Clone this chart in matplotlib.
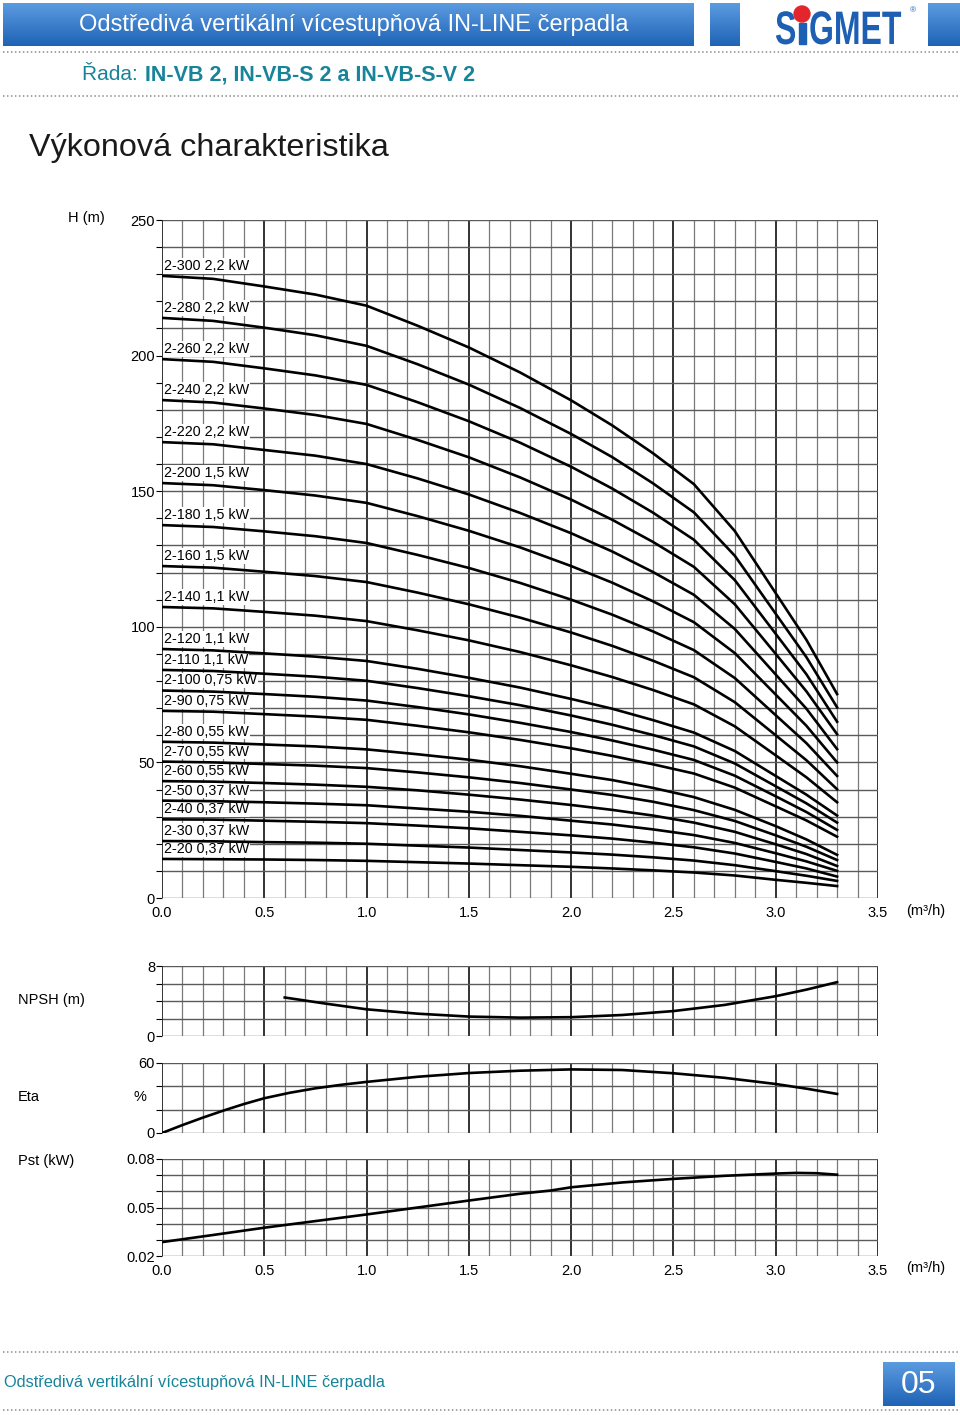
import numpy as np
import matplotlib.pyplot as plt
from matplotlib.colors import LinearSegmentedColormap
from matplotlib.patches import Circle, Rectangle, PathPatch
from matplotlib.textpath import TextPath
from matplotlib.font_manager import FontProperties
from matplotlib.transforms import Affine2D

plt.rcParams['font.family'] = ['Liberation Sans', 'DejaVu Sans']

# --- data ---
Q_POINTS = [0.0, 0.25, 0.5, 0.75, 1.0, 1.25, 1.5, 1.75, 2.0, 2.2, 2.4, 2.6, 2.8, 3.0, 3.15, 3.3]

PUMP_LABELS = ['2-300 2,2 kW', '2-280 2,2 kW', '2-260 2,2 kW', '2-240 2,2 kW',
               '2-220 2,2 kW', '2-200 1,5 kW', '2-180 1,5 kW', '2-160 1,5 kW',
               '2-140 1,1 kW', '2-120 1,1 kW', '2-110 1,1 kW', '2-100 0,75 kW',
               '2-90 0,75 kW', '2-80 0,55 kW', '2-70 0,55 kW', '2-60 0,55 kW',
               '2-50 0,37 kW', '2-40 0,37 kW', '2-30 0,37 kW', '2-20 0,37 kW']

HEAD_CURVES = [
    [229.4, 228.3, 225.5, 222.5, 218.4, 211.0, 203.0, 193.8, 183.5, 174.3, 164.0, 152.6, 135.3, 112.4, 95.2, 75.2],
    [213.9, 212.8, 210.3, 207.5, 203.6, 196.8, 189.3, 180.7, 171.1, 162.6, 152.9, 142.2, 126.2, 104.8, 88.8, 70.3],
    [198.7, 197.7, 195.3, 192.7, 189.2, 182.8, 175.8, 167.9, 159.0, 151.0, 142.1, 132.1, 117.2, 97.4, 82.5, 65.0],
    [183.6, 182.7, 180.5, 178.1, 174.8, 168.9, 162.5, 155.1, 146.9, 139.5, 131.3, 122.1, 108.3, 90.0, 76.2, 60.4],
    [168.1, 167.3, 165.2, 163.1, 160.0, 154.7, 148.8, 142.0, 134.5, 127.8, 120.2, 111.8, 99.2, 82.4, 69.8, 54.9],
    [153.0, 152.2, 150.4, 148.4, 145.7, 140.8, 135.4, 129.3, 122.4, 116.3, 109.4, 101.7, 90.3, 75.0, 63.5, 50.0],
    [137.5, 136.8, 135.2, 133.4, 130.9, 126.5, 121.7, 116.2, 110.0, 104.5, 98.3, 91.4, 81.1, 67.4, 57.1, 45.0],
    [122.4, 121.8, 120.3, 118.7, 116.5, 112.6, 108.3, 103.4, 97.9, 93.0, 87.5, 81.4, 72.2, 60.0, 50.8, 40.1],
    [107.3, 106.8, 105.5, 104.1, 102.1, 98.7, 95.0, 90.7, 85.8, 81.5, 76.7, 71.4, 63.3, 52.6, 44.5, 35.3],
    [91.8, 91.3, 90.2, 89.0, 87.4, 84.5, 81.2, 77.6, 73.4, 69.8, 65.6, 61.0, 54.2, 45.0, 38.1, 30.4],
    [84.1, 83.7, 82.7, 81.6, 80.1, 77.4, 74.4, 71.1, 67.3, 63.9, 60.1, 55.9, 49.6, 41.2, 34.9, 27.8],
    [76.5, 76.1, 75.2, 74.2, 72.8, 70.4, 67.7, 64.6, 61.2, 58.1, 54.7, 50.9, 45.1, 37.5, 31.7, 25.1],
    [69.0, 68.7, 67.8, 66.9, 65.7, 63.5, 61.1, 58.3, 55.2, 52.4, 49.3, 45.9, 40.7, 33.8, 28.6, 22.6],
    [57.6, 57.3, 56.6, 55.9, 54.8, 53.0, 51.0, 48.6, 45.8, 43.5, 40.6, 37.2, 32.5, 26.5, 21.6, 15.9],
    [50.3, 50.0, 49.4, 48.8, 47.9, 46.3, 44.5, 42.4, 40.0, 38.0, 35.5, 32.4, 28.4, 23.1, 18.9, 14.0],
    [43.1, 42.9, 42.4, 41.8, 41.0, 39.7, 38.1, 36.3, 34.3, 32.5, 30.4, 27.8, 24.4, 19.8, 16.2, 11.8],
    [35.9, 35.7, 35.3, 34.8, 34.2, 33.0, 31.8, 30.3, 28.5, 27.1, 25.3, 23.2, 20.3, 16.5, 13.5, 10.0],
    [29.0, 28.9, 28.5, 28.1, 27.6, 26.7, 25.7, 24.4, 23.1, 21.9, 20.4, 18.7, 16.4, 13.3, 10.9, 7.9],
    [21.0, 20.9, 20.6, 20.4, 20.0, 19.3, 18.6, 17.7, 16.8, 16.0, 15.0, 13.8, 12.1, 9.9, 8.2, 6.3],
    [14.4, 14.3, 14.2, 14.0, 13.7, 13.2, 12.7, 12.1, 11.5, 10.9, 10.2, 9.4, 8.3, 6.7, 5.6, 4.4],
]

NPSH_Q = [0.6, 0.8, 1.0, 1.25, 1.5, 1.75, 2.0, 2.25, 2.5, 2.75, 3.0, 3.15, 3.3]
NPSH_M = [4.4, 3.7, 3.05, 2.55, 2.22, 2.1, 2.15, 2.4, 2.85, 3.55, 4.55, 5.3, 6.15]

ETA_Q = [0.0, 0.1, 0.2, 0.3, 0.4, 0.5, 0.625, 0.75, 0.875, 1.0, 1.25, 1.5, 1.75, 2.0,
         2.25, 2.5, 2.75, 3.0, 3.15, 3.3]
ETA_PCT = [0.0, 6.8, 13.2, 19.2, 24.8, 29.8, 34.5, 38.3, 41.3, 43.8, 48.2, 51.4, 53.4, 54.5,
           54.0, 51.2, 47.3, 42.0, 38.0, 33.5]

PST_Q = [0.0, 0.25, 0.5, 0.75, 1.0, 1.25, 1.5, 1.75, 1.9, 2.0, 2.25, 2.5, 2.75, 3.0, 3.1, 3.2, 3.3]
PST_KW = [0.0286, 0.0330, 0.0375, 0.0416, 0.0457, 0.0500, 0.0543, 0.0585, 0.0605, 0.0625,
          0.0655, 0.0677, 0.0696, 0.0710, 0.0714, 0.0712, 0.0703]

Q_TICKS = [0.0, 0.5, 1.0, 1.5, 2.0, 2.5, 3.0, 3.5]

W, H = 960, 1415
BLUE_CMAP = LinearSegmentedColormap.from_list('hdr', ['#5b9be0', '#1f63b6'])
TEAL = '#17849a'
LOGO_BLUE = '#1d5fb3'

fig = plt.figure(figsize=(W / 100, H / 100), dpi=100)


def px_axes(left, top, width, height):
    return fig.add_axes([left / W, 1 - (top + height) / H, width / W, height / H])


def logo_word(ax, word, x, baseline, sx, sy):
    # heavy, tall lettering squeezed horizontally like the brand mark
    tp = TextPath((0, 0), word, size=1, prop=FontProperties(family='Liberation Sans', weight='bold'))
    tr = Affine2D().scale(sx, -sy).translate(x, baseline)
    ax.add_patch(PathPatch(tr.transform_path(tp), fc=LOGO_BLUE, ec='none', zorder=3))


# page decoration layer in pixel coordinates
deco = fig.add_axes([0, 0, 1, 1])
grad = np.linspace(0, 1, 64).reshape(-1, 1)
for x0, x1, y0, y1 in [(3, 694, 3, 46), (710, 740, 3, 46), (928, 960, 3, 46), (883, 955, 1362, 1406)]:
    deco.imshow(grad, cmap=BLUE_CMAP, extent=(x0, x1, y1, y0), aspect='auto', zorder=1)
deco.set_xlim(0, W)
deco.set_ylim(H, 0)
deco.axis('off')
for yy in [52, 96, 1352, 1410]:
    deco.plot([3, 958], [yy, yy], color='#8c8c8c', lw=1.1, ls=(0, (1, 1.6)))

deco.text(79, 25, 'Odstředivá vertikální vícestupňová IN-LINE čerpadla', color='white',
          fontsize=17, va='center', ha='left', zorder=3)

# logo
logo_word(deco, 'S', 775, 44, 32, 47)
deco.add_patch(Rectangle((799, 23), 7, 21, color=LOGO_BLUE, zorder=3))
deco.add_patch(Circle((802, 14), 8, color='#e3262e', zorder=4))
logo_word(deco, 'GMET', 809, 44, 32, 47)
deco.text(913, 11, '®', color=LOGO_BLUE, fontsize=6, va='center', ha='center')

deco.text(82, 75, 'Řada: ', color=TEAL, fontsize=15, va='center', ha='left')
deco.text(145, 75, 'IN-VB 2, IN-VB-S 2 a IN-VB-S-V 2', color=TEAL, fontsize=15.5,
          fontweight='bold', va='center', ha='left')
deco.text(29, 148, 'Výkonová charakteristika', color='#1a1a1a', fontsize=23.3,
          va='center', ha='left')

deco.text(68, 218, 'H (m)', fontsize=10.5, va='center', ha='left')
deco.text(906, 911, '(m³/h)', fontsize=10.5, va='center', ha='left')
deco.text(906, 1268, '(m³/h)', fontsize=10.5, va='center', ha='left')
deco.text(18, 1000, 'NPSH (m)', fontsize=10.5, va='center', ha='left')
deco.text(18, 1097, 'Eta', fontsize=10.5, va='center', ha='left')
deco.text(134, 1097, '%', fontsize=10.5, va='center', ha='left')
deco.text(18, 1161, 'Pst (kW)', fontsize=10.5, va='center', ha='left')

deco.text(4, 1382, 'Odstředivá vertikální vícestupňová IN-LINE čerpadla', color=TEAL,
          fontsize=11.8, va='center', ha='left')
deco.text(919, 1385, '05', color='white', fontsize=23, va='center', ha='center', zorder=3)


def grid_panel(ax, ymin, ymax, ystep, yticks, ylabels, xlabels):
    ax.set_xlim(0, 3.5)
    ax.set_ylim(ymin, ymax)
    for i in range(36):
        major = i % 5 == 0
        ax.axvline(i * 0.1, color='#222222' if major else '#7a7a7a',
                   lw=1.3 if major else 0.9, zorder=1)
    nrows = int(round((ymax - ymin) / ystep))
    for j in range(nrows + 1):
        ax.axhline(ymin + j * ystep, color='#5a5a5a', lw=1.0, zorder=1)
    for s in ax.spines.values():
        s.set_visible(False)
    ax.set_yticks(yticks)
    ax.set_yticklabels(ylabels)
    ax.set_yticks([ymin + j * ystep for j in range(nrows + 1)], minor=True)
    ax.tick_params(axis='y', which='both', length=4, width=0.8, pad=1, labelsize=10.5)
    ax.set_xticks(Q_TICKS)
    if xlabels:
        ax.set_xticklabels([f'{q:.1f}' for q in Q_TICKS])
    else:
        ax.set_xticklabels([])
    ax.tick_params(axis='x', length=0, pad=6, labelsize=10.5)
    ax.set_facecolor('none')


# H-Q curves
ax = px_axes(162, 220, 716, 678)
grid_panel(ax, 0, 250, 10, [0, 50, 100, 150, 200, 250], ['0', '50', '100', '150', '200', '250'], True)
for lab, heads in zip(PUMP_LABELS, HEAD_CURVES):
    ax.plot(Q_POINTS, heads, color='black', lw=1.9, zorder=4, solid_joinstyle='round')
    ax.annotate(lab, xy=(0, heads[0]), xytext=(1.5, 2.2), textcoords='offset points',
                fontsize=10.3, va='bottom', ha='left', zorder=3,
                bbox=dict(boxstyle='square,pad=0.05', fc='white', ec='none'))

# NPSH
ax2 = px_axes(162, 966, 716, 70)
grid_panel(ax2, 0, 8, 2, [0, 8], ['0', '8'], False)
ax2.plot(NPSH_Q, NPSH_M, color='black', lw=1.9, zorder=4)

# efficiency
ax3 = px_axes(162, 1063, 716, 70)
grid_panel(ax3, 0, 60, 20, [0, 60], ['0', '60'], False)
ax3.plot(ETA_Q, ETA_PCT, color='black', lw=1.9, zorder=4)

# stage power
ax4 = px_axes(162, 1159, 716, 97)
grid_panel(ax4, 0.02, 0.08, 0.01, [0.02, 0.05, 0.08], ['0.02', '0.05', '0.08'], True)
ax4.plot(PST_Q, PST_KW, color='black', lw=1.9, zorder=4)

fig.savefig('out.png', dpi=100)
